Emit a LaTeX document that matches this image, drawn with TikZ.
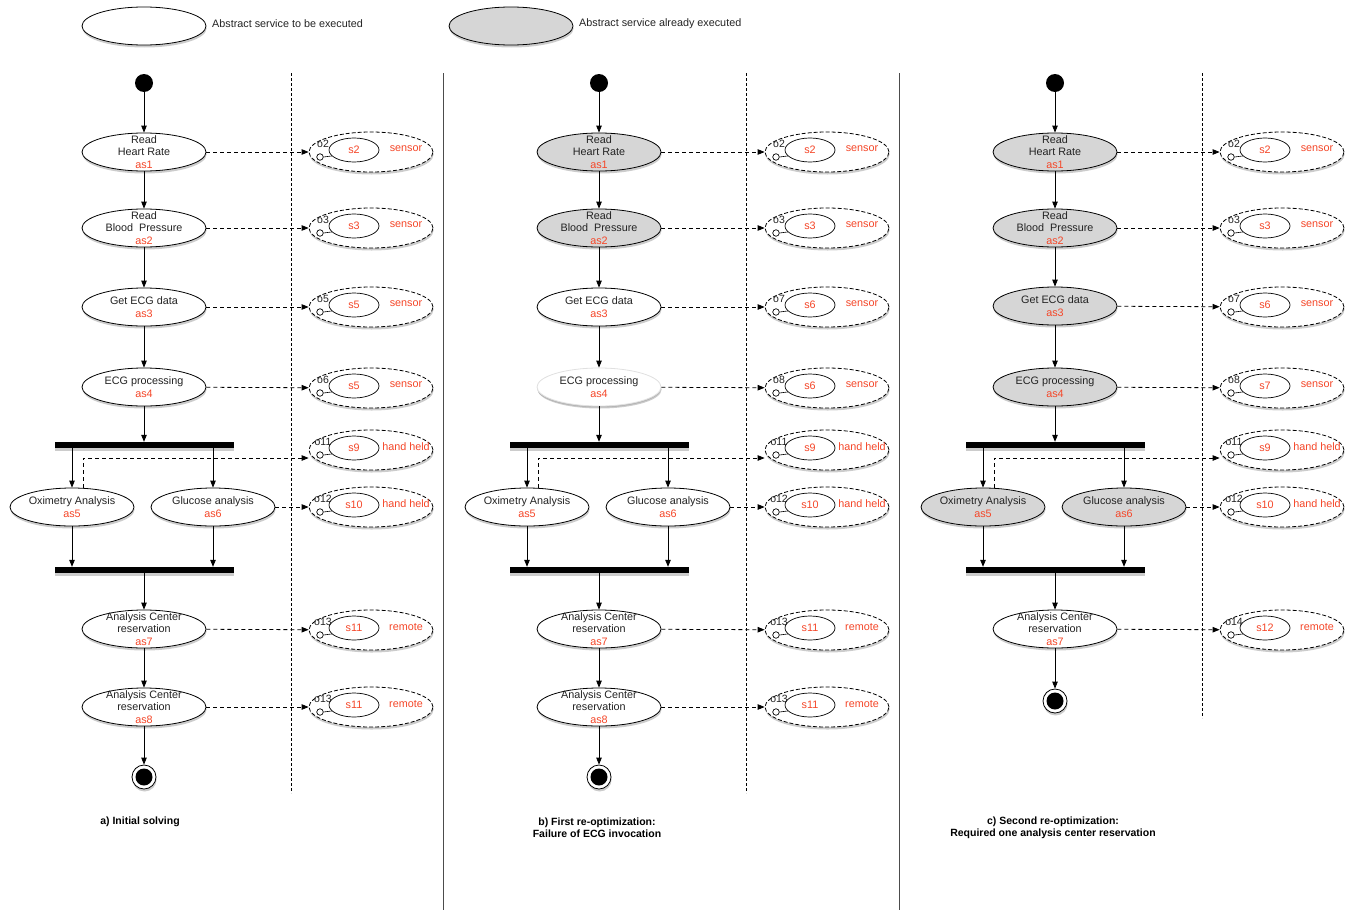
\documentclass[tikz,border=0pt]{standalone}
\usepackage{fontspec}
\setmainfont{Liberation Sans}
\usetikzlibrary{shapes.geometric,shadows,arrows.meta}

\definecolor{donegray}{RGB}{214,214,214}
\definecolor{asred}{RGB}{245,70,40}
\definecolor{inkgray}{RGB}{35,35,35}

\newcommand{\asid}[1]{\textcolor{asred}{#1}}
% concrete service: name, x, y, port label, service, kind
\newcommand{\csrv}[6]{%
  \node[concrete] (#1) at (#2,#3) {};
  \node[impl] (#1i) at ([xshift=-17pt,yshift=2pt]#1.center) {#5};
  \node[port] (#1p) at ([xshift=-51pt,yshift=-5pt]#1.center) {};
  \draw[line width=0.6pt] (#1p.east) -- (#1i.195);
  \node[portlab] (#1o) at ([xshift=-48pt,yshift=8pt]#1.center) {#4};
  \node[kind] (#1k) at ([xshift=35pt,yshift=3pt]#1.center) {#6};
}

\tikzset{
  shade/.style={drop shadow={shadow xshift=0.6pt, shadow yshift=-2.5pt, opacity=0.4}},
  todo/.style={ellipse, draw, line width=0.8pt, fill=white, minimum width=124pt,
    minimum height=38pt, inner sep=-6pt, align=center, text=inkgray,
    font=\fontsize{10.8}{12.5}\selectfont, shade},
  done/.style={todo, fill=donegray},
  failed/.style={todo, draw=black!12, drop shadow={shadow xshift=0pt, shadow yshift=-1.5pt, opacity=0.3}},
  concrete/.style={ellipse, draw, dash pattern=on 4pt off 2pt, line width=0.8pt, fill=white,
    minimum width=124pt, minimum height=40pt, inner sep=0pt, shade},
  impl/.style={ellipse, draw, line width=0.7pt, minimum width=50pt, minimum height=24pt,
    inner sep=0pt, text=asred, font=\fontsize{10.8}{12}\selectfont},
  port/.style={circle, draw, line width=0.7pt, fill=white, minimum size=6.5pt, inner sep=0pt},
  portlab/.style={inner sep=0pt, text=inkgray, font=\fontsize{10.5}{12}\selectfont},
  kind/.style={inner sep=0pt, text=asred, font=\fontsize{10.8}{12}\selectfont},
  startdot/.style={circle, fill=black, minimum size=18pt, inner sep=0pt},
  stopdot/.style={circle, draw, line width=0.8pt, fill=white, minimum size=24pt, inner sep=0pt, shade,
    path picture={\fill[black] (path picture bounding box.center) circle (8.5pt);}},
  bar/.style={fill=black, minimum width=179pt, minimum height=6pt, inner sep=0pt, shade},
  flow/.style={line width=0.8pt, -{Triangle[length=7pt,width=5.5pt]}},
  bind/.style={line width=0.8pt, dash pattern=on 4pt off 3pt, -{Triangle[length=7pt,width=5.5pt]}},
  lane/.style={line width=0.7pt, dash pattern=on 3pt off 2pt},
  panelsep/.style={line width=0.9pt, black!70},
  legtext/.style={anchor=west, inner sep=0pt, text=inkgray, font=\fontsize{10.8}{12}\selectfont},
  caption/.style={align=center, inner sep=0pt, font=\bfseries\fontsize{10.5}{12}\selectfont}
}

\begin{document}
\begin{tikzpicture}[x=1pt,y=-1pt]
  \useasboundingbox (0,0) rectangle (1351,910);

  % legend
  \node[todo] (legtodo) at (144,26) {};
  \node[legtext] (legtodot) at (212,24) {Abstract service to be executed};
  \node[done] (legdone) at (511,26) {};
  \node[legtext] (legdonet) at (579,24) {Abstract service already executed};

  \draw[panelsep] (443,73) -- (443,910);
  \draw[panelsep] (899,73) -- (899,910);

  % a) initial solving
  \begin{scope}
    \draw[lane] (291,73) -- (291,793);
    \node[startdot] (a0) at (144,83) {};
    \node[todo] (a1) at (144,152) {Read\\Heart Rate\\\asid{as1}};
    \node[todo] (a2) at (144,228) {Read\\Blood\ \ Pressure\\\asid{as2}};
    \node[todo] (a3) at (144,307) {Get ECG data\\\asid{as3}};
    \node[todo] (a4) at (144,387) {ECG processing\\\asid{as4}};
    \node[bar] (afork) at (144,445) {};
    \node[todo] (a5) at (72,507) {Oximetry Analysis\\\asid{as5}};
    \node[todo] (a6) at (213,507) {Glucose analysis\\\asid{as6}};
    \node[bar] (ajoin) at (144,570) {};
    \node[todo] (a7) at (144,629) {Analysis Center\\reservation\\\asid{as7}};
    \node[todo] (a8) at (144,707) {Analysis Center\\reservation\\\asid{as8}};
    \node[stopdot] (aend) at (144,777) {};

    \csrv{sa1}{371}{152}{o2}{s2}{sensor}
    \csrv{sa2}{371}{228}{o3}{s3}{sensor}
    \csrv{sa3}{371}{307}{o5}{s5}{sensor}
    \csrv{sa4}{371}{388}{o6}{s5}{sensor}
    \csrv{sa5}{371}{450}{o11}{s9}{hand held}
    \csrv{sa6}{371}{507}{o12}{s10}{hand held}
    \csrv{sa7}{371}{630}{o13}{s11}{remote}
    \csrv{sa8}{371}{707}{o13}{s11}{remote}

    \draw[flow] (a0) -- (a1);
    \draw[flow] (a1) -- (a2);
    \draw[flow] (a2) -- (a3);
    \draw[flow] (a3) -- (a4);
    \draw[flow] (a4) -- (afork);
    \draw[flow] (a5 |- afork.south) -- (a5);
    \draw[flow] (a6 |- afork.south) -- (a6);
    \draw[flow] (a5) -- (a5 |- ajoin.north);
    \draw[flow] (a6) -- (a6 |- ajoin.north);
    \draw[flow] (ajoin) -- (a7);
    \draw[flow] (a7) -- (a8);
    \draw[flow] (a8) -- (aend);

    \draw[bind] (a1) -- (sa1);
    \draw[bind] (a2) -- (sa2);
    \draw[bind] (a3) -- (sa3);
    \draw[bind] (a4) -- (sa4);
    \draw[bind] (a5.60) |- ([yshift=-8pt]sa5.west);
    \draw[bind] (a6) -- (sa6);
    \draw[bind] (a7) -- (sa7);
    \draw[bind] (a8) -- (sa8);

    \node[caption] (capa) at (140,822) {a) Initial solving};
  \end{scope}

  % b) first re-optimization
  \begin{scope}[xshift=455pt]
    \draw[lane] (291,73) -- (291,793);
    \node[startdot] (b0) at (144,83) {};
    \node[done] (b1) at (144,152) {Read\\Heart Rate\\\asid{as1}};
    \node[done] (b2) at (144,228) {Read\\Blood\ \ Pressure\\\asid{as2}};
    \node[todo] (b3) at (144,307) {Get ECG data\\\asid{as3}};
    \node[failed] (b4) at (144,387) {ECG processing\\\asid{as4}};
    \node[bar] (bfork) at (144,445) {};
    \node[todo] (b5) at (72,507) {Oximetry Analysis\\\asid{as5}};
    \node[todo] (b6) at (213,507) {Glucose analysis\\\asid{as6}};
    \node[bar] (bjoin) at (144,570) {};
    \node[todo] (b7) at (144,629) {Analysis Center\\reservation\\\asid{as7}};
    \node[todo] (b8) at (144,707) {Analysis Center\\reservation\\\asid{as8}};
    \node[stopdot] (bend) at (144,777) {};

    \csrv{sb1}{372}{152}{o2}{s2}{sensor}
    \csrv{sb2}{372}{228}{o3}{s3}{sensor}
    \csrv{sb3}{372}{307}{o7}{s6}{sensor}
    \csrv{sb4}{372}{388}{o8}{s6}{sensor}
    \csrv{sb5}{372}{450}{o11}{s9}{hand held}
    \csrv{sb6}{372}{507}{o12}{s10}{hand held}
    \csrv{sb7}{372}{630}{o13}{s11}{remote}
    \csrv{sb8}{372}{707}{o13}{s11}{remote}

    \draw[flow] (b0) -- (b1);
    \draw[flow] (b1) -- (b2);
    \draw[flow] (b2) -- (b3);
    \draw[flow] (b3) -- (b4);
    \draw[flow] (b4) -- (bfork);
    \draw[flow] (b5 |- bfork.south) -- (b5);
    \draw[flow] (b6 |- bfork.south) -- (b6);
    \draw[flow] (b5) -- (b5 |- bjoin.north);
    \draw[flow] (b6) -- (b6 |- bjoin.north);
    \draw[flow] (bjoin) -- (b7);
    \draw[flow] (b7) -- (b8);
    \draw[flow] (b8) -- (bend);

    \draw[bind] (b1) -- (sb1);
    \draw[bind] (b2) -- (sb2);
    \draw[bind] (b3) -- (sb3);
    \draw[bind] (b4) -- (sb4);
    \draw[bind] (b5.60) |- ([yshift=-8pt]sb5.west);
    \draw[bind] (b6) -- (sb6);
    \draw[bind] (b7) -- (sb7);
    \draw[bind] (b8) -- (sb8);

    \node[caption] (capb) at (142,828) {b) First re-optimization:\\Failure of ECG invocation};
  \end{scope}

  % c) second re-optimization
  \begin{scope}[xshift=911pt]
    \draw[lane] (291,73) -- (291,718);
    \node[startdot] (c0) at (144,83) {};
    \node[done] (c1) at (144,152) {Read\\Heart Rate\\\asid{as1}};
    \node[done] (c2) at (144,228) {Read\\Blood\ \ Pressure\\\asid{as2}};
    \node[done] (c3) at (144,306) {Get ECG data\\\asid{as3}};
    \node[done] (c4) at (144,387) {ECG processing\\\asid{as4}};
    \node[bar] (cfork) at (144,445) {};
    \node[done] (c5) at (72,507) {Oximetry Analysis\\\asid{as5}};
    \node[done] (c6) at (213,507) {Glucose analysis\\\asid{as6}};
    \node[bar] (cjoin) at (144,570) {};
    \node[todo] (c7) at (144,629) {Analysis Center\\reservation\\\asid{as7}};
    \node[stopdot] (cend) at (144,701) {};

    \csrv{sc1}{371}{152}{o2}{s2}{sensor}
    \csrv{sc2}{371}{228}{o3}{s3}{sensor}
    \csrv{sc3}{371}{307}{o7}{s6}{sensor}
    \csrv{sc4}{371}{388}{o8}{s7}{sensor}
    \csrv{sc5}{371}{450}{o11}{s9}{hand held}
    \csrv{sc6}{371}{507}{o12}{s10}{hand held}
    \csrv{sc7}{371}{630}{o14}{s12}{remote}

    \draw[flow] (c0) -- (c1);
    \draw[flow] (c1) -- (c2);
    \draw[flow] (c2) -- (c3);
    \draw[flow] (c3) -- (c4);
    \draw[flow] (c4) -- (cfork);
    \draw[flow] (c5 |- cfork.south) -- (c5);
    \draw[flow] (c6 |- cfork.south) -- (c6);
    \draw[flow] (c5) -- (c5 |- cjoin.north);
    \draw[flow] (c6) -- (c6 |- cjoin.north);
    \draw[flow] (cjoin) -- (c7);
    \draw[flow] (c7) -- (cend);

    \draw[bind] (c1) -- (sc1);
    \draw[bind] (c2) -- (sc2);
    \draw[bind] (c3) -- (sc3);
    \draw[bind] (c4) -- (sc4);
    \draw[bind] (c5.60) |- ([yshift=-8pt]sc5.west);
    \draw[bind] (c6) -- (sc6);
    \draw[bind] (c7) -- (sc7);

    \node[caption] (capc) at (142,828) {c) Second re-optimization:\\Required one analysis center reservation};
  \end{scope}
\end{tikzpicture}
\end{document}
